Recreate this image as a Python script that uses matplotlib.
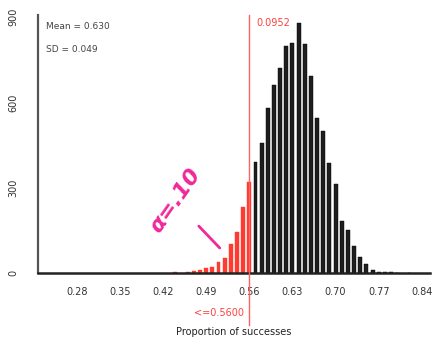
import numpy as np
import matplotlib.pyplot as plt

# simulated proportions (n = 100, 10000 repetitions)
red_props = [0.44, 0.46, 0.47, 0.48, 0.49, 0.50, 0.51, 0.52, 0.53, 0.54, 0.55, 0.56]
red_counts = [2, 4, 7, 11, 17, 21, 40, 54, 102, 144, 232, 320]

black_props = [0.57, 0.58, 0.59, 0.60, 0.61, 0.62, 0.63, 0.64, 0.65, 0.66, 0.67, 0.68,
               0.69, 0.70, 0.71, 0.72, 0.73, 0.74, 0.75, 0.76, 0.77, 0.78, 0.79, 0.80, 0.82]
black_counts = [390, 457, 580, 661, 721, 798, 809, 879, 805, 693, 545, 499,
                387, 313, 183, 153, 95, 56, 30, 12, 5, 3, 2, 1, 1]

xticks = [0.28, 0.35, 0.42, 0.49, 0.56, 0.63, 0.70, 0.77, 0.84]
yticks = [0, 300, 600, 900]
cutoff = 0.56

fig = plt.figure(figsize=(4.32, 3.43), dpi=100)
ax = fig.add_axes([0.088, 0.204, 0.907, 0.752])

ax.bar(red_props, red_counts, width=0.0064, color='#ff3b30', edgecolor='#ff3b30', linewidth=0.3)
ax.bar(black_props, black_counts, width=0.0064, color='#1e1e1e', edgecolor='#000000', linewidth=0.3)

# cutoff line runs down past the tick labels
ax.axvline(cutoff, ymin=-0.2, ymax=1.0, color='#ff6060', lw=1.0, clip_on=False, zorder=3)

ax.set_xlim(0.217, 0.853)
ax.set_ylim(0, 907)
ax.set_xticks(xticks)
ax.set_xticklabels(['%.2f' % v for v in xticks])
ax.set_yticks(yticks)
ax.set_yticklabels([str(v) for v in yticks], rotation=90, va='center')
ax.tick_params(axis='both', length=0, labelsize=7, colors='#333333')
ax.tick_params(axis='x', pad=10)
ax.tick_params(axis='y', pad=14)

for s in ['top', 'right']:
    ax.spines[s].set_visible(False)
ax.spines['left'].set_color('#555555')
ax.spines['left'].set_linewidth(1.6)
ax.spines['bottom'].set_color('#222222')
ax.spines['bottom'].set_linewidth(1.8)

ax.set_xlabel('Proportion of successes', fontsize=7, color='#222222', labelpad=22)

ax.text(0.02, 0.975, 'Mean = 0.630', transform=ax.transAxes, fontsize=6.5, color='#444444', va='top')
ax.text(0.02, 0.885, 'SD = 0.049', transform=ax.transAxes, fontsize=6.5, color='#444444', va='top')
ax.text(cutoff + 0.011, 880, '0.0952', fontsize=7, color='#ff4040', va='center')
ax.text(cutoff - 0.008, -140, '<=0.5600', fontsize=7, color='#ff4040', ha='right', va='center', clip_on=False)

# handwritten note
ax.text(0.44, 255, 'α=.10', fontsize=16, color='#f0289a', rotation=55, ha='center', va='center',
        style='italic', fontweight='bold')
ax.plot([0.478, 0.512], [165, 88], color='#f0289a', lw=2.0, solid_capstyle='round')

fig.savefig('out.png', dpi=100)
